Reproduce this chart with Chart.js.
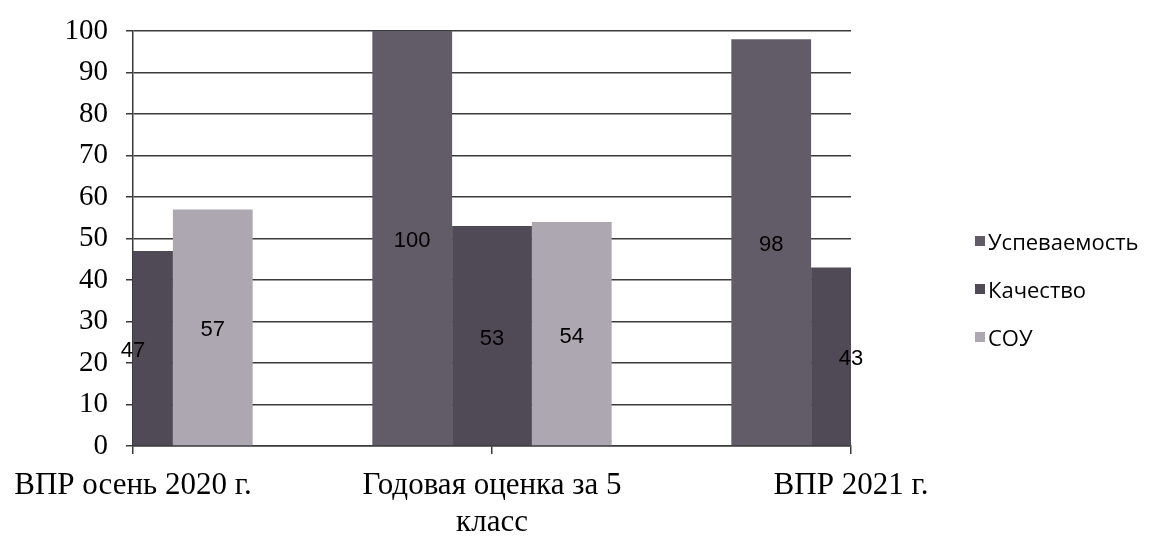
<!DOCTYPE html>
<html lang="ru">
<head>
<meta charset="utf-8">
<title>Успеваемость</title>
<script src="https://cdn.jsdelivr.net/npm/chart.js@4.4.0/dist/chart.umd.min.js"></script>
<style>
    body { margin: 0; background: #fff; }
    #contenitore { position: relative; width: 1154px; height: 541px; }
    #legenda {
        position: absolute;
        left: 975px;
        top: 217px;
        font-family: "Open Sans", sans-serif;
        font-size: 22px;
        color: #000;
    }
    .voce { display: flex; align-items: center; height: 48px; }
    .quadrato { width: 10px; height: 10px; margin-right: 3px; }
</style>
</head>
<body>
<div id="contenitore">
    <canvas id="grafico" width="1154" height="541"></canvas>
    <div id="legenda"></div>
</div>
<script>
// dati
const categorie = ["ВПР осень 2020 г.", ["Годовая оценка за 5", "класс"], "ВПР 2021 г."];
const nomiSerie = ["Успеваемость", "Качество", "СОУ"];
const uspevaemost = [null, 100, 98];
const kachestvo = [47, 53, 43];
const sou = [57, 54, null];
const colori = ["#625c68", "#504a56", "#aca7b0"];

const coloreLinee = "#3a3a3a";

// etichette dei valori al centro di ogni barra
const etichettePlugin = {
    id: "etichette",
    afterDatasetsDraw(chart) {
        const ctx = chart.ctx;
        ctx.save();
        ctx.font = '22px "Liberation Sans", sans-serif';
        ctx.fillStyle = "#000";
        ctx.textAlign = "center";
        ctx.textBaseline = "middle";
        chart.data.datasets.forEach((ds, i) => {
            const meta = chart.getDatasetMeta(i);
            meta.data.forEach((barra, j) => {
                const valore = ds.data[j];
                if (valore === null) return;
                ctx.fillText(valore, barra.x, (barra.y + barra.base) / 2 + 3);
            });
        });
        ctx.restore();
    },
};

const serie = [uspevaemost, kachestvo, sou];
const data = {
    labels: categorie,
    datasets: serie.map((valori, i) => ({
        label: nomiSerie[i],
        data: valori,
        backgroundColor: colori[i],
        borderWidth: 0,
        clip: 0,
        categoryPercentage: 2 / 3,
        barPercentage: 1,
    })),
};

const options = {
    responsive: false,
    animation: false,
    layout: {
        padding: { left: 0, top: 31, right: 303, bottom: 0 },
    },
    plugins: {
        legend: { display: false },
        tooltip: { enabled: false },
    },
    scales: {
        x: {
            offset: false,
            grid: {
                display: true,
                offset: false,
                drawOnChartArea: false,
                tickLength: 8,
                color: coloreLinee,
                lineWidth: 1.5,
            },
            border: { color: coloreLinee, width: 1.5 },
            ticks: {
                color: "#000",
                font: { family: "Liberation Serif", size: 31, lineHeight: 1.2 },
                padding: 13,
                maxRotation: 0,
                autoSkip: false,
            },
            afterFit: (scala) => {
                scala.height = 95;
            },
        },
        y: {
            min: 0,
            max: 100,
            ticks: {
                stepSize: 10,
                color: "#000",
                font: { family: "Liberation Serif", size: 29 },
                padding: 18,
            },
            grid: {
                color: coloreLinee,
                lineWidth: 1.5,
                tickLength: 7,
            },
            border: { color: coloreLinee, width: 1.5 },
            afterFit: (scala) => {
                scala.width = 133;
                // niente spazio extra sopra e sotto l'asse
                scala.paddingTop = 0;
                scala.paddingBottom = 0;
            },
        },
    },
};

const ctx = document.getElementById("grafico").getContext("2d");
new Chart(ctx, {
    type: "bar",
    data: data,
    options: options,
    plugins: [etichettePlugin],
});

// legenda in html
const legenda = document.getElementById("legenda");
nomiSerie.forEach((nome, i) => {
    const voce = document.createElement("div");
    voce.className = "voce";
    voce.innerHTML = '<span class="quadrato" style="background:' + colori[i] + '"></span>' + nome;
    legenda.appendChild(voce);
});
</script>
</body>
</html>
